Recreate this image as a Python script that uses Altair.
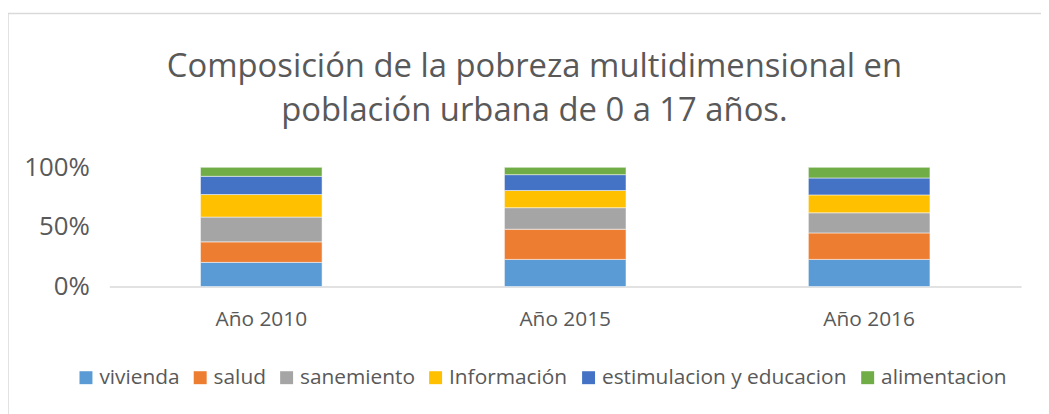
import altair as alt
import pandas as pd

years = ["Año 2010", "Año 2015", "Año 2016"]
categories = ["vivienda", "salud", "sanemiento", "Información",
              "estimulacion y educacion", "alimentacion"]
colors = ["#5B9BD5", "#ED7D31", "#A5A5A5", "#FFC000", "#4472C4", "#70AD47"]

vivienda = [20.3, 22.8, 22.8]
salud = [17.2, 25.3, 22.2]
sanemiento = [20.8, 18.1, 16.9]
informacion = [18.9, 14.4, 15.0]
estimulacion = [15.3, 13.3, 14.2]
alimentacion = [7.5, 6.1, 8.9]

title_lines = ["Composición de la pobreza multidimensional en",
               "población urbana de 0 a 17 años."]

series = [vivienda, salud, sanemiento, informacion, estimulacion, alimentacion]
rows = []
for ci, (cat, vals) in enumerate(zip(categories, series)):
    for yr, v in zip(years, vals):
        rows.append({"year": yr, "cat": cat, "idx": ci, "value": v})
df = pd.DataFrame(rows)

FONT = "Open Sans"
GREY = "#595959"

bars = alt.Chart(df).mark_bar(stroke="white", strokeWidth=0.5).encode(
    x=alt.X("year:N", sort=years, title=None,
            scale=alt.Scale(paddingInner=0.6, paddingOuter=0.3),
            axis=alt.Axis(labelAngle=0, ticks=False, labelFontSize=21,
                          labelColor=GREY, labelFont=FONT, labelPadding=22,
                          domainColor="#D9D9D9", domainWidth=1.5)),
    y=alt.Y("value:Q", stack="normalize", title=None,
            scale=alt.Scale(domain=[0, 1]),
            axis=alt.Axis(values=[0, 0.5, 1], format="%", ticks=False, domain=False,
                          labelFontSize=26, labelColor=GREY, labelFont=FONT,
                          labelPadding=20, gridColor="#D9D9D9", gridWidth=1.5)),
    color=alt.Color("cat:N", sort=categories,
                    scale=alt.Scale(domain=categories, range=colors),
                    legend=alt.Legend(title=None, orient="none", direction="horizontal",
                                      columns=6, legendX=-34, legendY=201,
                                      symbolType="square", symbolSize=170,
                                      symbolStrokeWidth=0, labelFontSize=21,
                                      labelFont=FONT, labelColor=GREY, labelLimit=0,
                                      columnPadding=10, symbolOffset=0, labelOffset=3)),
    order=alt.Order("idx:Q", sort="ascending"),
)

frame = alt.Chart(pd.DataFrame({"a": [0]})).mark_rect(
    fill=None, stroke="#D9D9D9", strokeWidth=1.5
).encode(
    x=alt.value(-102), x2=alt.value(1100),
    y=alt.value(-155), y2=alt.value(400),
)

title_df = pd.DataFrame({"line": title_lines, "row": [0, 1]})
title = alt.Chart(title_df).mark_text(
    font=FONT, fontSize=33, color=GREY, baseline="middle", align="center"
).encode(
    text="line:N",
    x=alt.value(428),
    y=alt.Y("row:Q", scale=alt.Scale(domain=[0, 1], range=[-101, -57]), axis=None),
)

chart = alt.layer(frame, title, bars).resolve_scale(y="independent").properties(
    width=918, height=120,
    padding={"left": 102, "top": 159, "right": 20, "bottom": 150},
    autosize="none",
).configure_view(stroke=None)

chart.save("out.html", embed_options={"renderer": "svg", "actions": False})
